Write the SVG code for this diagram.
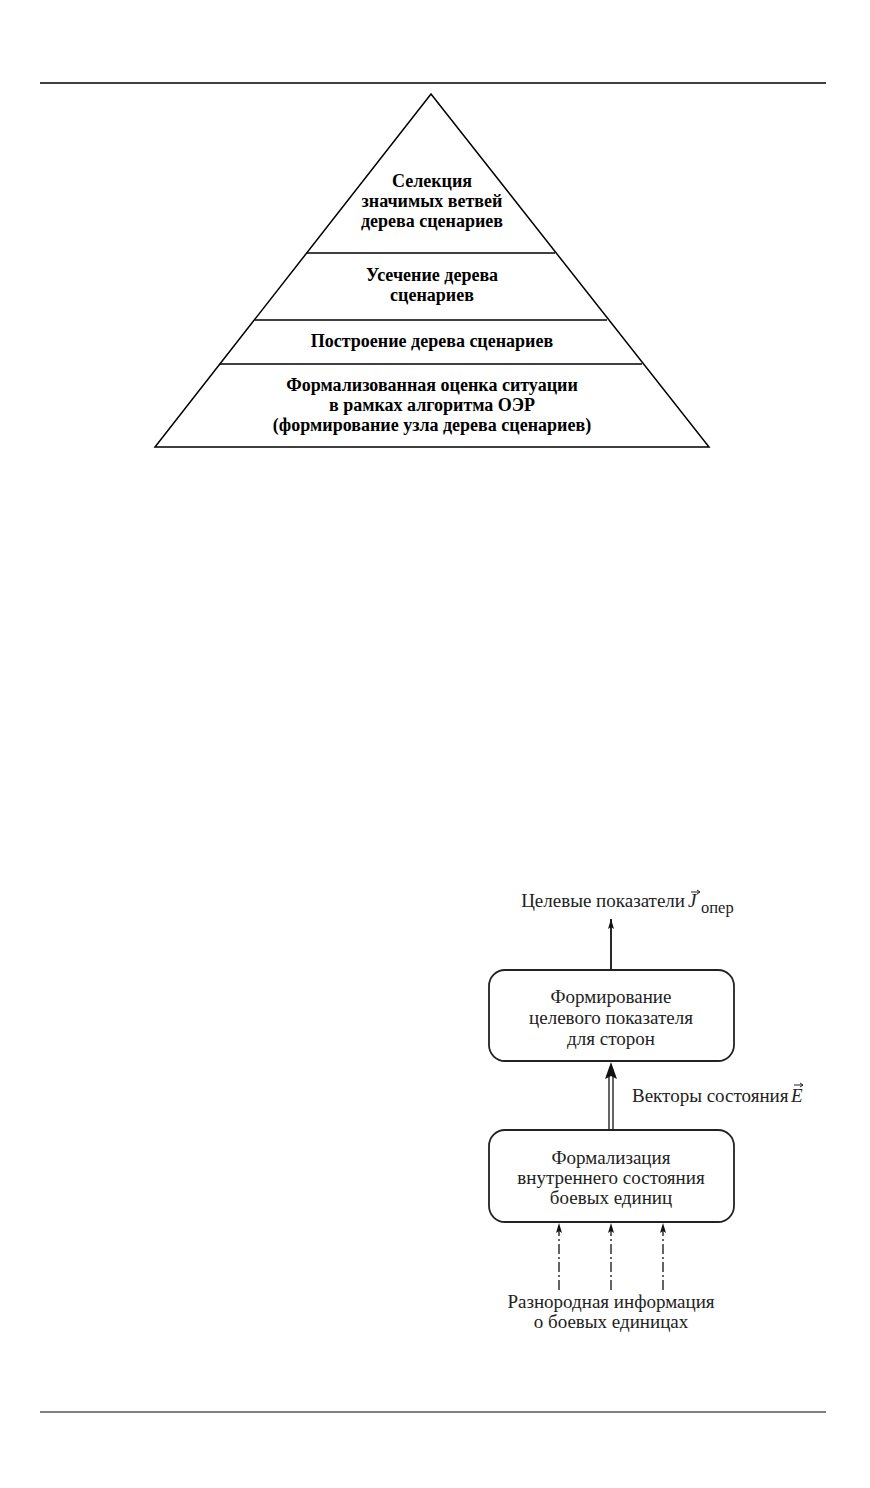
<svg xmlns="http://www.w3.org/2000/svg" width="870" height="1488" viewBox="0 0 870 1488">
<defs>
<style>
.ln{stroke:#000;stroke-width:1.5;fill:none}
.pt{font-family:"Liberation Serif","Times New Roman",serif;font-weight:bold;font-size:18px;text-anchor:middle;fill:#000}
.bt{font-family:"Liberation Serif","Times New Roman",serif;font-size:19px;text-anchor:middle;fill:#222}
.lt{font-family:"Liberation Serif","Times New Roman",serif;font-size:19px;fill:#222}
.sub{font-family:"Liberation Serif","Times New Roman",serif;font-size:16.5px;fill:#222}
.box{fill:#fff;stroke:#222;stroke-width:1.8}
.vec{stroke:#222;stroke-width:1;fill:none}
</style>
<marker id="ahs" viewBox="0 0 10 6" refX="10" refY="3" markerWidth="10" markerHeight="6" markerUnits="userSpaceOnUse" orient="auto">
<path d="M0,0 L10,3 L0,6 L2,3 Z" fill="#111"/>
</marker>
</defs>
<rect width="870" height="1488" fill="#fff"/>
<line x1="40" y1="83" x2="826" y2="83" stroke="#000" stroke-width="1.5"/>
<line x1="40" y1="1412" x2="826" y2="1412" stroke="#808080" stroke-width="2"/>

<g id="pyramid">
<polygon class="ln" points="431,94 155,447 709,447"/>
<line class="ln" x1="307" y1="253" x2="555" y2="253"/>
<line class="ln" x1="255" y1="320" x2="607" y2="320"/>
<line class="ln" x1="220" y1="364" x2="642" y2="364"/>
</g>
<g id="level4">
<text class="pt" x="432" y="187">Селекция</text>
<text class="pt" x="432" y="207">значимых ветвей</text>
<text class="pt" x="432" y="227">дерева сценариев</text>
</g>
<g id="level3">
<text class="pt" x="432" y="281">Усечение дерева</text>
<text class="pt" x="432" y="301">сценариев</text>
</g>
<g id="level2">
<text class="pt" x="432" y="347">Построение дерева сценариев</text>
</g>
<g id="level1">
<text class="pt" x="432" y="391">Формализованная оценка ситуации</text>
<text class="pt" x="432" y="411">в рамках алгоритма ОЭР</text>
<text class="pt" x="432" y="431">(формирование узла дерева сценариев)</text>
</g>

<g id="connectors">
<line x1="611" y1="970" x2="611" y2="919" stroke="#111" stroke-width="1.8" marker-end="url(#ahs)"/>
<line x1="609" y1="1130" x2="609" y2="1074" stroke="#111" stroke-width="1.3"/>
<line x1="613" y1="1130" x2="613" y2="1074" stroke="#111" stroke-width="1.3"/>
<path d="M611,1062 L617,1079 L611,1076 L605,1079 Z" fill="#111"/>
<g stroke="#111" stroke-width="1.3" stroke-dasharray="10,3,2,3" marker-end="url(#ahs)">
<line x1="559" y1="1290" x2="559" y2="1223"/>
<line x1="611" y1="1290" x2="611" y2="1223"/>
<line x1="663" y1="1290" x2="663" y2="1223"/>
</g>
</g>

<g id="out-label">
<text class="lt" x="685" y="907" text-anchor="end">Целевые показатели</text>
<text class="lt" x="688" y="907" font-style="italic">J</text>
<text class="sub" x="701" y="913">опер</text>
<path class="vec" d="M691,892 L700,892 M697,890 L700,892 L697,894"/>
</g>
<g id="box1">
<rect class="box" x="489" y="970" width="245" height="91" rx="16"/>
<text class="bt" x="611" y="1003">Формирование</text>
<text class="bt" x="611" y="1024">целевого показателя</text>
<text class="bt" x="611" y="1045">для сторон</text>
</g>
<g id="vec-label">
<text class="lt" x="632" y="1102">Векторы состояния</text>
<text class="lt" x="791" y="1102" font-style="italic">E</text>
<path class="vec" d="M794,1085 L803,1085 M800,1083 L803,1085 L800,1087"/>
</g>
<g id="box2">
<rect class="box" x="489" y="1130" width="245" height="92" rx="16"/>
<text class="bt" x="611" y="1164">Формализация</text>
<text class="bt" x="611" y="1184">внутреннего состояния</text>
<text class="bt" x="611" y="1204">боевых единиц</text>
</g>
<g id="in-label">
<text class="bt" x="611" y="1308">Разнородная информация</text>
<text class="bt" x="611" y="1328">о боевых единицах</text>
</g>
</svg>
